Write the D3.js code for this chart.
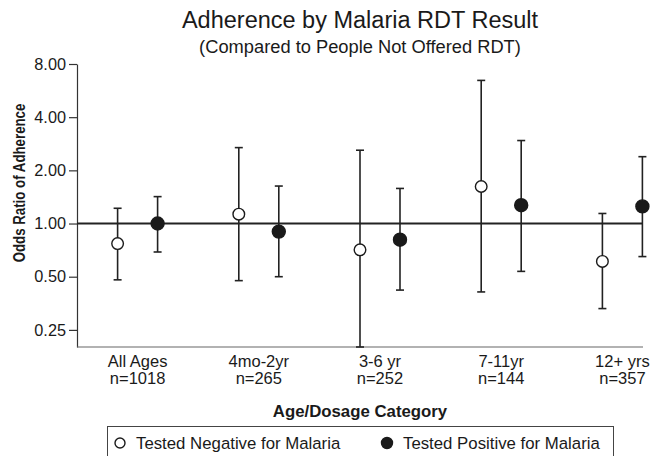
<!DOCTYPE html>
<html>
<head>
<meta charset="utf-8">
<script src="https://cdn.jsdelivr.net/npm/d3@7"></script>
<style>
  body { margin: 0; background: #fff; }
  text { font-family: "Liberation Sans", Arial, sans-serif; fill: #1a1a1a; }
</style>
</head>
<body>
<div id="chart"></div>
<script>
// Categories and sample sizes
let categories = ["All Ages", "4mo-2yr", "3-6 yr", "7-11yr", "12+ yrs"];
let sampleSizes = ["n=1018", "n=265", "n=252", "n=144", "n=357"];

// Tested negative: odds ratio with 95% CI
let negOR = [0.77, 1.13, 0.71, 1.62, 0.61];
let negLo = [0.48, 0.475, 0.2, 0.41, 0.33];
let negHi = [1.22, 2.69, 2.60, 6.46, 1.14];

// Tested positive: odds ratio with 95% CI
let posOR = [1.0, 0.90, 0.81, 1.27, 1.25];
let posLo = [0.69, 0.50, 0.42, 0.536, 0.65];
let posHi = [1.42, 1.63, 1.58, 2.95, 2.39];

let yTicks = [0.25, 0.5, 1, 2, 4, 8];

let width = 651, height = 456;
let plot = {left: 77, right: 643, top: 64, bottom: 347};

let svg = d3.select("#chart")
    .append("svg")
    .attr("width", width)
    .attr("height", height);

// x: category index, the two groups sit either side of the centre
let x = d3.scaleLinear()
    .domain([-0.5, 4.17])
    .range([plot.left, plot.right]);
let offset = 0.165;

// y: log2 odds ratio
let y = d3.scaleLog()
    .base(2)
    .domain([0.2, 8])
    .range([plot.bottom, plot.top]);

// Titles
svg.append("text")
    .attr("x", 360).attr("y", 28)
    .style("text-anchor", "middle")
    .style("font-size", "23.5px")
    .text("Adherence by Malaria RDT Result");
svg.append("text")
    .attr("x", 360).attr("y", 53)
    .style("text-anchor", "middle")
    .style("font-size", "18.3px")
    .text("(Compared to People Not Offered RDT)");

// y axis
let yAxis = svg.append("g")
    .attr("transform", `translate(${plot.left},0)`)
    .call(d3.axisLeft(y).tickValues(yTicks).tickFormat(d3.format(".2f"))
        .tickSize(8).tickPadding(3).tickSizeOuter(0));
yAxis.select(".domain").attr("stroke", "#333").attr("stroke-width", 1.2);
yAxis.selectAll(".tick line").attr("stroke", "#333").attr("stroke-width", 1.2);
yAxis.selectAll(".tick text")
    .style("font-size", "16.3px")
    .style("font-family", "'Liberation Sans', Arial, sans-serif")
    .attr("fill", "#1a1a1a");

// x axis line (no ticks)
svg.append("line")
    .attr("x1", plot.left).attr("x2", plot.right)
    .attr("y1", plot.bottom).attr("y2", plot.bottom)
    .attr("stroke", "#666").attr("stroke-width", 1.2);

// Category labels
let catLabels = svg.append("g").selectAll("text")
    .data(categories)
    .enter()
    .append("text")
    .attr("x", (d, i) => x(i))
    .attr("y", 367)
    .style("text-anchor", "middle")
    .style("font-size", "16.5px");
catLabels.append("tspan").text(d => d);
catLabels.append("tspan")
    .attr("x", (d, i) => x(i))
    .attr("dy", 16.5)
    .text((d, i) => sampleSizes[i]);

// Axis titles
svg.append("text")
    .attr("x", 360).attr("y", 417)
    .style("text-anchor", "middle")
    .style("font-size", "16.8px")
    .style("font-weight", "bold")
    .text("Age/Dosage Category");
// rotated label looks squeezed along its length in the original
svg.append("text")
    .attr("transform", `translate(24.5, 183) rotate(-90) scale(0.83, 1)`)
    .style("text-anchor", "middle")
    .style("font-size", "16px")
    .style("font-weight", "bold")
    .text("Odds Ratio of Adherence");

// Reference line at OR = 1
svg.append("line")
    .attr("x1", plot.left).attr("x2", plot.right)
    .attr("y1", y(1)).attr("y2", y(1))
    .attr("stroke", "#222").attr("stroke-width", 2);

// Build series rows
let series = [
    {name: "neg", dx: -offset, or: negOR, lo: negLo, hi: negHi, fill: "#fff"},
    {name: "pos", dx: offset, or: posOR, lo: posLo, hi: posHi, fill: "#1a1a1a"}
];
let rows = [];
series.forEach(function(s) {
    categories.forEach(function(c, i) {
        rows.push({s: s, xv: i + s.dx, or: s.or[i], lo: s.lo[i], hi: s.hi[i]});
    });
});

let capW = 4;
let marks = svg.append("g").selectAll("g").data(rows).enter().append("g");
// whisker
marks.append("line")
    .attr("x1", d => x(d.xv)).attr("x2", d => x(d.xv))
    .attr("y1", d => y(d.lo)).attr("y2", d => y(d.hi))
    .attr("stroke", "#222").attr("stroke-width", 1.6);
// caps
marks.append("line")
    .attr("x1", d => x(d.xv) - capW).attr("x2", d => x(d.xv) + capW)
    .attr("y1", d => y(d.hi)).attr("y2", d => y(d.hi))
    .attr("stroke", "#222").attr("stroke-width", 1.6);
marks.append("line")
    .attr("x1", d => x(d.xv) - capW).attr("x2", d => x(d.xv) + capW)
    .attr("y1", d => y(d.lo)).attr("y2", d => y(d.lo))
    .attr("stroke", "#222").attr("stroke-width", 1.6);
// point
marks.append("circle")
    .attr("cx", d => x(d.xv))
    .attr("cy", d => y(d.or))
    .attr("r", d => d.s.name == "pos" ? 6.5 : 5.8)
    .attr("fill", d => d.s.fill)
    .attr("stroke", "#1a1a1a")
    .attr("stroke-width", 1.4);

// Legend
let legend = svg.append("g");
legend.append("rect")
    .attr("x", 107.5).attr("y", 426.5)
    .attr("width", 506).attr("height", 40)
    .attr("fill", "none").attr("stroke", "#444").attr("stroke-width", 1);
let legendItems = [
    {label: "Tested Negative for Malaria", fill: "#fff", cx: 120, r: 5},
    {label: "Tested Positive for Malaria", fill: "#1a1a1a", cx: 387, r: 5.5}
];
legendItems.forEach(function(item) {
    legend.append("circle")
        .attr("cx", item.cx).attr("cy", 443)
        .attr("r", item.r)
        .attr("fill", item.fill)
        .attr("stroke", "#1a1a1a").attr("stroke-width", 1.4);
    legend.append("text")
        .attr("x", item.cx + 16).attr("y", 449)
        .style("font-size", "16.8px")
        .text(item.label);
});
</script>
</body>
</html>
